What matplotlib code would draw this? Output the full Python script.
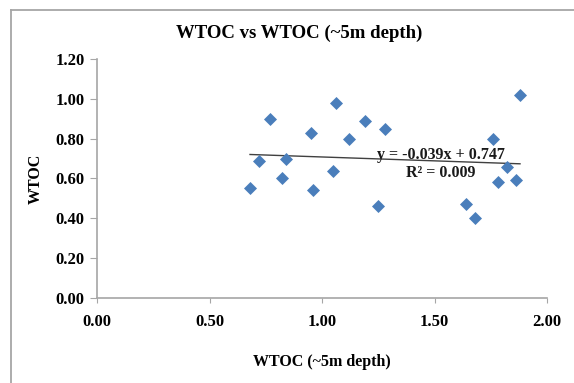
import numpy as np
import matplotlib.pyplot as plt
from matplotlib.lines import Line2D

plt.rcParams['font.family'] = ['Liberation Serif', 'DejaVu Serif']
plt.rcParams['font.weight'] = 'bold'

# WTOC at ~5m depth (x) vs WTOC (y)
wtoc_5m = [0.68, 0.72, 0.77, 0.82, 0.84, 0.95, 0.96, 1.05, 1.06, 1.12,
           1.19, 1.25, 1.28, 1.64, 1.68, 1.76, 1.78, 1.82, 1.86, 1.88]
wtoc = [0.55, 0.69, 0.90, 0.60, 0.70, 0.83, 0.54, 0.64, 0.98, 0.80,
        0.89, 0.46, 0.85, 0.47, 0.40, 0.80, 0.58, 0.66, 0.59, 1.02]

# linear trendline as reported on the chart
slope = -0.039
intercept = 0.747
r2 = 0.009

xticks = [0.00, 0.50, 1.00, 1.50, 2.00]
yticks = [0.00, 0.20, 0.40, 0.60, 0.80, 1.00, 1.20]

fig = plt.figure(figsize=(5.74, 3.83), dpi=100)
ax = fig.add_axes([0.169, 0.222, 0.784, 0.624])

# outer chart frame (only top and left edges are visible)
fx = 11 / 574
fy = 1 - 10 / 383
fig.lines.append(Line2D([fx, 1.0], [fy, fy], transform=fig.transFigure,
                        color='#a6a6a6', linewidth=1.3))
fig.lines.append(Line2D([fx, fx], [0.0, fy], transform=fig.transFigure,
                        color='#a6a6a6', linewidth=1.3))

ax.scatter(wtoc_5m, wtoc, marker='D', s=44, color='#4a7ebb', zorder=3,
           linewidths=0)

xs = np.array([min(wtoc_5m), max(wtoc_5m)])
ax.plot(xs, slope * xs + intercept, color='#404040', linewidth=1.0, zorder=2)

ax.text(1.529, 0.718, 'y = -0.039x + 0.747', fontsize=11.5, ha='center',
        va='center', color='#1a1a1a')
ax.text(1.529, 0.628, 'R² = %.3f' % r2, fontsize=11.5, ha='center',
        va='center', color='#1a1a1a')

ax.set_xlim(0, 2.0)
ax.set_ylim(0, 1.2)
ax.set_xticks(xticks)
ax.set_yticks(yticks)
ax.set_xticklabels(['%.2f' % v for v in xticks])
ax.set_yticklabels(['%.2f' % v for v in yticks])
ax.tick_params(axis='both', labelsize=12, color='#a6a6a6', direction='out')
ax.tick_params(axis='y', length=5, pad=4)
ax.tick_params(axis='x', length=3.5, pad=8)

for side in ['top', 'right']:
    ax.spines[side].set_visible(False)
for side in ['left', 'bottom']:
    ax.spines[side].set_color('#a6a6a6')
    ax.spines[side].set_linewidth(1.2)

fig.text(299 / 574, 1 - 33 / 383, 'WTOC vs WTOC (~5m depth)', fontsize=13.5,
         fontweight='bold', ha='center', va='center')
ax.set_xlabel('WTOC (~5m depth)', fontsize=11.5, fontweight='bold',
              labelpad=17)
ax.set_ylabel('WTOC', fontsize=11.5, fontweight='bold', labelpad=8)

fig.savefig('out.png', dpi=100)
